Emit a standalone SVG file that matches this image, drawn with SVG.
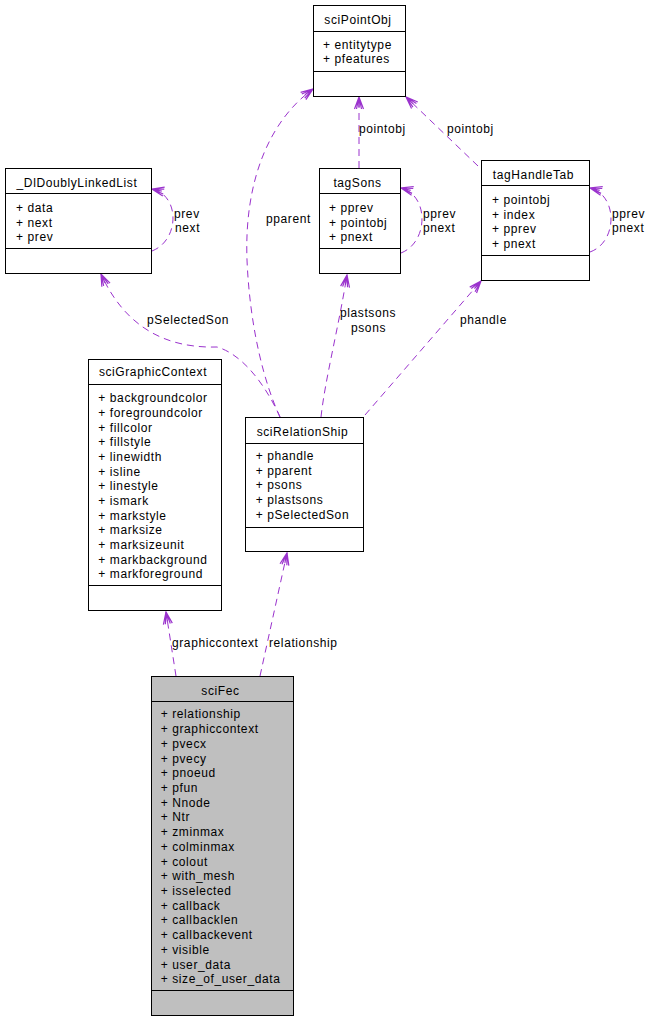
<svg xmlns="http://www.w3.org/2000/svg" width="651" height="1021" viewBox="0 0 651 1021">
<defs>
<style>
text{font-family:"Liberation Sans",Arial,sans-serif;font-size:12px;letter-spacing:0.6px;fill:#000}
.t{text-anchor:middle}
.box{fill:#fff;stroke:#000;stroke-width:1}
.fec{fill:#bfbfbf;stroke:#000;stroke-width:1}
.sep{stroke:#000;stroke-width:1}
.e{fill:none;stroke:#9a32cd;stroke-width:1;stroke-dasharray:7,5;marker-end:url(#ah)}
</style>
<marker id="ah" viewBox="-13 -7 14 14" refX="0" refY="0" markerWidth="14" markerHeight="14" markerUnits="userSpaceOnUse" orient="auto">
<path d="M-12,-4.5 L0,0 L-12,4.5 M-12,-2.5 L0,0 L-12,2.5 M-10,0 L0,0" fill="none" stroke="#9a32cd" stroke-width="1.2" stroke-dasharray="none"/>
</marker>
</defs>
<rect width="651" height="1021" fill="#fff"/>

<g id="connectors">
<path class="e" d="M280,417 C265,385 250,330 247,260 C244,180 270,120 313,89"/>
<text x="266" y="223">pparent</text>
<path class="e" d="M280,417 C268,390 245,355 217,347 C180,348 130,338 101,274"/>
<text x="147" y="324">pSelectedSon</text>
<path class="e" d="M321,417 C325,380 338,330 347,275"/>
<text x="340" y="317">plastsons</text>
<text x="351" y="332">psons</text>
<path class="e" d="M365,415 L481,281"/>
<text x="460" y="324">phandle</text>
<path class="e" d="M359,168 L359,97"/>
<text x="359" y="133">pointobj</text>
<path class="e" d="M478,166 L406,97"/>
<text x="447" y="133">pointobj</text>
<path class="e" d="M176,676 L166,612"/>
<text x="172" y="647">graphiccontext</text>
<path class="e" d="M260,676 L287,553"/>
<text x="269" y="647">relationship</text>
<path class="e" d="M152,251 C180,240 180,195 152,189"/>
<text x="174" y="218">prev</text>
<text x="175" y="232">next</text>
<path class="e" d="M401,253 C429,242 429,195 401,188"/>
<text x="423" y="218">pprev</text>
<text x="423" y="232">pnext</text>
<path class="e" d="M590,252 C618,242 618,195 590,188"/>
<text x="612" y="218">pprev</text>
<text x="612" y="232">pnext</text>
</g>

<g id="sciPointObj">
<rect class="box" x="313.5" y="5.5" width="92" height="91"/>
<line class="sep" x1="313.5" y1="31.5" x2="405.5" y2="31.5"/>
<line class="sep" x1="313.5" y1="71.5" x2="405.5" y2="71.5"/>
<text class="t" x="358" y="24">sciPointObj</text>
<text x="323" y="48.5">+ entitytype</text>
<text x="323" y="63">+ pfeatures</text>
</g>

<g id="DlDoublyLinkedList">
<rect class="box" x="5.5" y="168.5" width="146" height="105"/>
<line class="sep" x1="5.5" y1="193.5" x2="151.5" y2="193.5"/>
<line class="sep" x1="5.5" y1="248.5" x2="151.5" y2="248.5"/>
<text class="t" x="77" y="187">_DlDoublyLinkedList</text>
<text x="16" y="212">+ data</text>
<text x="16" y="226.7">+ next</text>
<text x="16" y="241.3">+ prev</text>
</g>

<g id="tagSons">
<rect class="box" x="319.5" y="168.5" width="81" height="105"/>
<line class="sep" x1="319.5" y1="193.5" x2="400.5" y2="193.5"/>
<line class="sep" x1="319.5" y1="248.5" x2="400.5" y2="248.5"/>
<text class="t" x="357.5" y="187">tagSons</text>
<text x="329" y="212">+ pprev</text>
<text x="329" y="226.7">+ pointobj</text>
<text x="329" y="241.3">+ pnext</text>
</g>

<g id="tagHandleTab">
<rect class="box" x="481.5" y="160.5" width="108" height="120"/>
<line class="sep" x1="481.5" y1="185.5" x2="589.5" y2="185.5"/>
<line class="sep" x1="481.5" y1="255.5" x2="589.5" y2="255.5"/>
<text class="t" x="533.5" y="179">tagHandleTab</text>
<text x="492" y="204">+ pointobj</text>
<text x="492" y="218.7">+ index</text>
<text x="492" y="233.4">+ pprev</text>
<text x="492" y="248">+ pnext</text>
</g>

<g id="sciGraphicContext">
<rect class="box" x="88.5" y="359.5" width="133" height="251"/>
<line class="sep" x1="88.5" y1="384.5" x2="221.5" y2="384.5"/>
<line class="sep" x1="88.5" y1="585.5" x2="221.5" y2="585.5"/>
<text class="t" x="153" y="376">sciGraphicContext</text>
<text x="98.3" y="402.3">+ backgroundcolor</text>
<text x="98.3" y="417">+ foregroundcolor</text>
<text x="98.3" y="431.6">+ fillcolor</text>
<text x="98.3" y="446.3">+ fillstyle</text>
<text x="98.3" y="461">+ linewidth</text>
<text x="98.3" y="475.6">+ isline</text>
<text x="98.3" y="490.3">+ linestyle</text>
<text x="98.3" y="505">+ ismark</text>
<text x="98.3" y="519.7">+ markstyle</text>
<text x="98.3" y="534.3">+ marksize</text>
<text x="98.3" y="549">+ marksizeunit</text>
<text x="98.3" y="563.7">+ markbackground</text>
<text x="98.3" y="578.3">+ markforeground</text>
</g>

<g id="sciRelationShip">
<rect class="box" x="245.5" y="417.5" width="118" height="134"/>
<line class="sep" x1="245.5" y1="443.5" x2="363.5" y2="443.5"/>
<line class="sep" x1="245.5" y1="527.5" x2="363.5" y2="527.5"/>
<text class="t" x="302.5" y="436">sciRelationShip</text>
<text x="255.7" y="460">+ phandle</text>
<text x="255.7" y="474.7">+ pparent</text>
<text x="255.7" y="489.3">+ psons</text>
<text x="255.7" y="504">+ plastsons</text>
<text x="255.7" y="518.7">+ pSelectedSon</text>
</g>

<g id="sciFec">
<rect class="fec" x="151.5" y="676.5" width="142" height="339"/>
<line class="sep" x1="151.5" y1="701.5" x2="293.5" y2="701.5"/>
<line class="sep" x1="151.5" y1="990.5" x2="293.5" y2="990.5"/>
<text class="t" x="220.5" y="694.5">sciFec</text>
<text x="160.7" y="718.3">+ relationship</text>
<text x="160.7" y="733">+ graphiccontext</text>
<text x="160.7" y="747.7">+ pvecx</text>
<text x="160.7" y="762.5">+ pvecy</text>
<text x="160.7" y="777.2">+ pnoeud</text>
<text x="160.7" y="791.9">+ pfun</text>
<text x="160.7" y="806.6">+ Nnode</text>
<text x="160.7" y="821.3">+ Ntr</text>
<text x="160.7" y="836.1">+ zminmax</text>
<text x="160.7" y="850.8">+ colminmax</text>
<text x="160.7" y="865.5">+ colout</text>
<text x="160.7" y="880.2">+ with_mesh</text>
<text x="160.7" y="895">+ isselected</text>
<text x="160.7" y="909.7">+ callback</text>
<text x="160.7" y="924.4">+ callbacklen</text>
<text x="160.7" y="939.1">+ callbackevent</text>
<text x="160.7" y="953.8">+ visible</text>
<text x="160.7" y="968.6">+ user_data</text>
<text x="160.7" y="983.3">+ size_of_user_data</text>
</g>
</svg>
